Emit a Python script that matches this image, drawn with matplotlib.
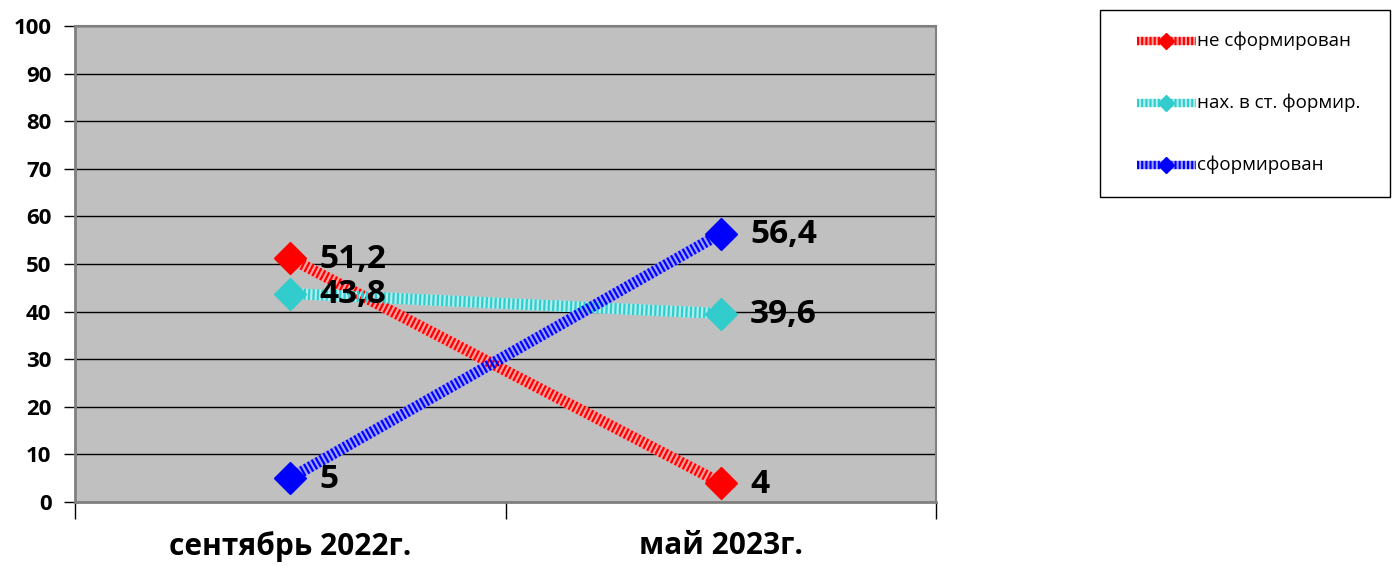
import matplotlib
matplotlib.use("Agg")
import matplotlib.pyplot as plt
from matplotlib.lines import Line2D
from matplotlib.patches import Rectangle

categories = ["сентябрь 2022г.", "май 2023г."]
series_names = ["не сформирован", "нах. в ст. формир.", "сформирован"]
not_formed = [51.2, 4.0]
in_progress = [43.8, 39.6]
formed = [5.0, 56.4]
labels_nf = ["51,2", "4"]
labels_ip = ["43,8", "39,6"]
labels_f = ["5", "56,4"]

colors = ["#FF0000", "#33CCCC", "#0000FF"]
light = ["#FFA0A0", "#B0EEEE", "#A0A0FF"]

plt.rcParams['font.family'] = ['Open Sans', 'DejaVu Sans']

W, H = 1392, 566
fig = plt.figure(figsize=(W/100, H/100), dpi=100)
ax = fig.add_axes([75/W, (H-502)/H, 861/W, 476/H])
ax.set_facecolor("#C0C0C0")
ax.set_xlim(-0.5, 1.5)
ax.set_ylim(0, 100)
ax.set_yticks(range(0, 101, 10))
ax.yaxis.grid(True, color="black", linewidth=1)
ax.set_axisbelow(True)
for s in ["top", "right", "left", "bottom"]:
    ax.spines[s].set_color("#808080")
    ax.spines[s].set_linewidth(1.5 if s in ("top", "right") else 2)

x = list(range(len(categories)))
ax.set_xticks(x)
ax.set_xticklabels(categories, fontsize=21.5, fontweight="bold")
ax.set_xticks([-0.5, 0.5, 1.5], minor=True)
ax.tick_params(axis="x", which="major", length=0, pad=21)
ax.tick_params(axis="x", which="minor", length=12, color="black", width=1)
ax.tick_params(axis="y", length=8, color="black", width=1, labelsize=16, pad=9)
for lab in ax.get_yticklabels():
    lab.set_fontweight("bold")

all_series = [not_formed, in_progress, formed]
all_labels = [labels_nf, labels_ip, labels_f]
for vals, labs, c, lc in zip(all_series, all_labels, colors, light):
    ax.plot(x, vals, color=lc, linewidth=8, solid_capstyle="butt", zorder=3)
    ax.plot(x, vals, color=c, linewidth=8, linestyle=(0, (0.2, 0.2)), zorder=3.1)
    ax.plot(x, vals, linestyle="none", marker="D", markersize=16, color=c, zorder=4)
    for xi, v, t in zip(x, vals, labs):
        ax.annotate(t, (xi, v), xytext=(21, -1), textcoords="offset points",
                    fontsize=24, fontweight="bold", va="center", ha="left", zorder=5)

# legend drawn in figure pixel coordinates
def fx(px):
    return px / W
def fy(py):
    return 1 - py / H

fig.patches.append(Rectangle((fx(1100), fy(197)), fx(1390) - fx(1100), fy(10) - fy(197),
                             transform=fig.transFigure, facecolor="white",
                             edgecolor="black", linewidth=1))
rows = [41, 103, 165]
for name, c, lc, ry in zip(series_names, colors, light, rows):
    fig.add_artist(Line2D([fx(1137), fx(1196)], [fy(ry), fy(ry)], transform=fig.transFigure,
                          color=lc, linewidth=6, solid_capstyle="butt"))
    fig.add_artist(Line2D([fx(1137), fx(1196)], [fy(ry), fy(ry)], transform=fig.transFigure,
                          color=c, linewidth=6, linestyle=(0, (0.25, 0.25))))
    fig.add_artist(Line2D([fx(1166)], [fy(ry)], transform=fig.transFigure, linestyle="none",
                          marker="D", markersize=8, color=c))
    fig.text(fx(1197), fy(ry), name, fontsize=13.5, va="center", ha="left")

fig.savefig("out.png", dpi=100)
